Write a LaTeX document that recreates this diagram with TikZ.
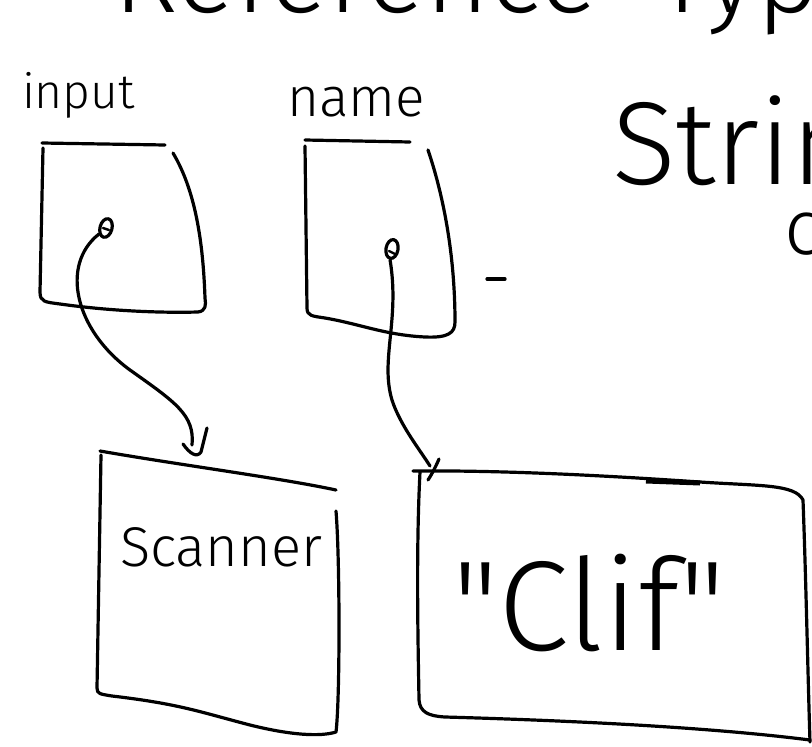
\documentclass[tikz,border=0pt]{standalone}
\usepackage{fontspec}
\setmainfont{Fira Sans Light}
\usetikzlibrary{shapes.geometric}
\tikzset{
  pen/.style={line width=3.2pt, line cap=round, line join=round, draw=black},
  hand/.style={inner sep=0pt, outer sep=0pt, text=black},
  ptrdot/.style={pen, ellipse, minimum width=12pt, minimum height=19pt, inner sep=0pt},
}
\newcommand{\fs}[1]{\fontsize{#1}{#1}\selectfont}
\newcommand{\sq}{\XeTeXglyph\XeTeXglyphindex "quotedbl" }
\begin{document}
\begin{tikzpicture}[x=1pt,y=-1pt]
\useasboundingbox (0,0) rectangle (812,747);
\clip (0,0) rectangle (812,747);
\fill[white] (0,0) rectangle (812,747);

% heading (cut off at top edge)
\node[hand, anchor=base east, font=\fs{110}] (title1) at (598,12) {Reference};
\node[hand, anchor=base west, font=\fs{110}] (title2) at (655,12) {Types};
\node[hand, anchor=base west, font=\fs{118}] (string) at (612,184) {String};
\node[hand, anchor=base west, font=\fs{78}] (cpart) at (784,254) {c};

% variable labels
\node[hand, anchor=base west, font=\fs{48}] (lblinput) at (22,108) {input};
\node[hand, anchor=base west, font=\fs{55}] (lblname) at (287,116) {name};

% variable box: input
\draw[pen] (42,143) -- (165,145);
\draw[pen] (43,148) -- (40,292) .. controls (40,302) and (45,302) .. (60,304)
  .. controls (110,311) and (160,313) .. (198,312) .. controls (206,311) and (206,305) .. (205,298)
  .. controls (203,240) and (195,190) .. (173,153);
% variable box: name
\draw[pen] (305,140) -- (410,142);
\draw[pen] (305,146) -- (307,308) .. controls (307,316) and (312,316) .. (325,318)
  .. controls (360,324) and (385,335) .. (425,337) .. controls (448,338) and (455,333) .. (455,322)
  .. controls (455,260) and (445,200) .. (428,150);
% stray dash
\draw[pen] (487,279) -- (505,279);

% object box: Scanner
\draw[pen] (100,451) .. controls (180,465) and (280,478) .. (336,490);
\draw[pen] (101,455) -- (97,688) .. controls (97,694) and (100,694) .. (112,696)
  .. controls (180,704) and (200,712) .. (250,725) .. controls (290,735) and (320,737) .. (336,732)
  .. controls (340,700) and (340,560) .. (336,511);
\node[hand, anchor=base west, font=\fs{56}] (scanner) at (120,566) {Scanner};

% object box: "Clif"
\draw[pen] (413,471) .. controls (520,470) and (640,478) .. (700,482)
  .. controls (760,486) and (795,484) .. (803,500)
  .. controls (806,580) and (808,680) .. (810,742);
\draw[line width=5pt] (646,481) -- (700,483);
\draw[pen] (420,472) .. controls (416,550) and (418,640) .. (419,700)
  .. controls (420,712) and (428,716) .. (445,717)
  .. controls (550,720) and (700,726) .. (810,740);
\node[hand, anchor=base west, font=\fs{128}] (clif) at (452,650) {\sq Clif\sq};

% references
\node[ptrdot, rotate=-15] (dot1) at (106,228) {};
\node[ptrdot, rotate=-10] (dot2) at (392,249) {};
\draw[pen, line width=2.4pt] ([xshift=-3pt]dot1.center) -- ([xshift=3pt,yshift=-2pt]dot1.center);
\draw[pen, line width=2.4pt] ([xshift=-3pt,yshift=-2pt]dot2.center) -- ([xshift=3pt,yshift=-5pt]dot2.center);
\coordinate (tip1) at (192,445);
\coordinate (tip2) at (430,466);
\draw[pen] (dot1.south west) .. controls (60,265) and (75,330) .. (130,370)
  .. controls (175,402) and (195,415) .. (tip1);
\draw[pen] (183,444) .. controls (190,454) and (197,458) .. (201,452) -- (207,428);
\draw[pen] (dot2.south) .. controls (400,320) and (380,360) .. (392,400)
  .. controls (400,425) and (420,450) .. (tip2);
\draw[pen] (439,459) .. controls (436,466) and (432,474) .. (428,480);
\end{tikzpicture}
\end{document}
